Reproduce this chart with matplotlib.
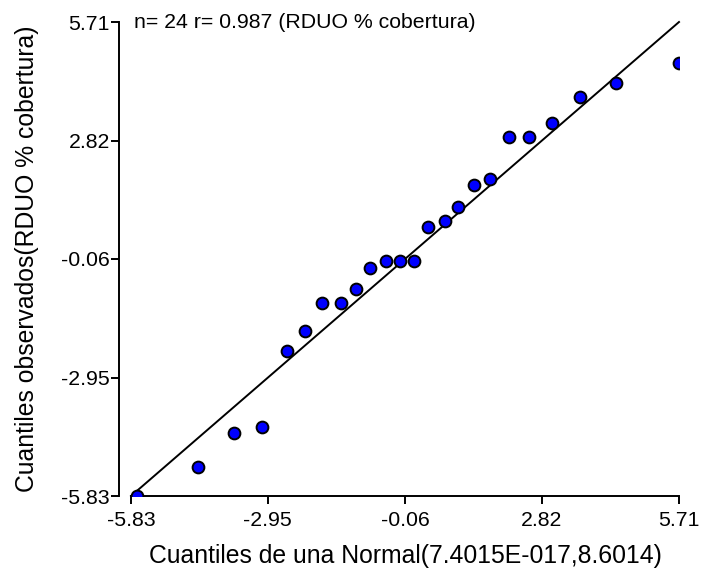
import matplotlib
matplotlib.use("Agg")
import matplotlib.pyplot as plt

plt.rcParams['font.family'] = ['Liberation Sans', 'DejaVu Sans']

# Theoretical normal quantiles (x) and observed residual quantiles (y)
theoretical_q = [-5.70, -4.42, -3.66, -3.07, -2.55, -2.17, -1.81, -1.41,
                 -1.09, -0.80, -0.46, -0.17, 0.13, 0.42, 0.78, 1.06,
                 1.39, 1.73, 2.13, 2.55, 3.03, 3.62, 4.38, 5.71]
observed_q = [-5.83, -5.12, -4.30, -4.15, -2.30, -1.81, -1.13, -1.13,
              -0.79, -0.28, -0.11, -0.11, -0.11, 0.72, 0.87, 1.21,
              1.74, 1.89, 2.91, 2.91, 3.25, 3.89, 4.23, 4.71]
tick_values = [-5.83, -2.95, -0.06, 2.82, 5.71]
tick_labels = ["-5.83", "-2.95", "-0.06", "2.82", "5.71"]
ref_line = [-5.83, 5.71]

W, H = 705, 577
fig = plt.figure(figsize=(W / 100, H / 100), dpi=100)
ax = fig.add_axes([131 / W, 1 - 496 / H, (679 - 131) / W, (496 - 22) / H])

ax.plot(ref_line, ref_line, color='black', lw=1.4, zorder=2, clip_on=False)
ax.scatter(theoretical_q, observed_q, s=72, facecolor='#0000ff',
           edgecolor='black', linewidths=1.4, zorder=3)

ax.set_xlim(-5.83, 5.71)
ax.set_ylim(-5.83, 5.71)
ax.set_xticks(tick_values)
ax.set_xticklabels(tick_labels)
ax.set_yticks(tick_values)
ax.set_yticklabels(tick_labels)

for side in ('top', 'right'):
    ax.spines[side].set_visible(False)
ax.spines['left'].set_position(('outward', 8.6))
for side in ('left', 'bottom'):
    ax.spines[side].set_linewidth(1.4)

ax.tick_params(axis='x', length=6, width=1.4, labelsize=15.3, pad=5,
               colors='black')
ax.tick_params(axis='y', length=6, width=1.4, labelsize=15.3, pad=0.5,
               colors='black')

# Axis titles placed in figure pixel space
fig.text(405 / W, 1 - 556 / H, "Cuantiles de una Normal(7.4015E-017,8.6014)",
         fontsize=17.8, ha='center', va='center')
fig.text(27 / W, 1 - 259 / H, "Cuantiles observados(RDUO % cobertura)",
         fontsize=17.8, ha='center', va='center', rotation=90)

ax.text(0.005, 1.0 - 1 / 474, "n= 24 r= 0.987 (RDUO % cobertura)",
        transform=ax.transAxes, fontsize=15.3, va='center', ha='left')

fig.savefig("out.png", dpi=100)
